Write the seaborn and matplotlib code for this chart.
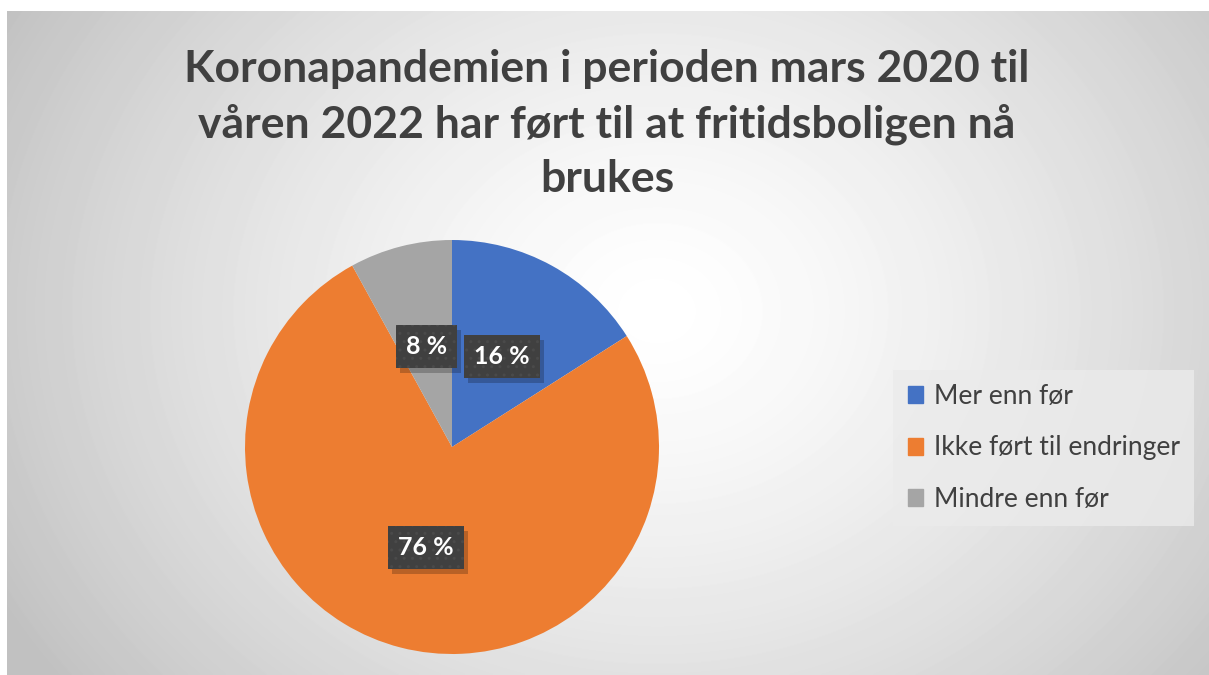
import matplotlib
matplotlib.use("Agg")
import matplotlib.pyplot as plt
from matplotlib.patches import Rectangle
import seaborn as sns
import numpy as np

# data
categories = ["Mer enn før", "Ikke ført til endringer", "Mindre enn før"]
shares = [16, 76, 8]
title = "Koronapandemien i perioden mars 2020 til\nvåren 2022 har ført til at fritidsboligen nå\nbrukes"

palette = ["#4472C4", "#ED7D31", "#A5A5A5"]

sns.set_theme(style="white")
plt.rcParams['font.family'] = ['Lato', 'DejaVu Sans']

W, H = 1209, 675
fig = plt.figure(figsize=(W / 100, H / 100), dpi=100)
fig.patch.set_facecolor("white")

# radial gradient background of the chart area
bg = fig.add_axes([7 / W, 0, (W - 7) / W, (H - 11) / H])
yy, xx = np.mgrid[0:H - 11, 0:W - 7]
d = np.hypot(xx - 650, (yy - 300) * 1.2)
v = np.clip(1.0 - 0.23 * (d / 720) ** 1.4, 0.76, 1.0)
bg.imshow(v, cmap="gray", vmin=0, vmax=1, aspect="auto", interpolation="bilinear")
bg.set_axis_off()

fig.text(607 / W, 1 - 49 / H, title, ha="center", va="top", fontsize=32,
         fontweight="bold", color="#404040", linespacing=1.42)

# pie
r = 207
ax = fig.add_axes([(452 - r) / W, (H - 447 - r) / H, 2 * r / W, 2 * r / H])
wedges, _, autotexts = ax.pie(
    shares, colors=palette, startangle=90, counterclock=False,
    autopct=lambda p: f"{p:.0f} %", pctdistance=0.5,
    wedgeprops=dict(linewidth=0),
    textprops=dict(color="white", fontsize=18, fontweight="bold"))
ax.set_xlim(-1, 1)
ax.set_ylim(-1, 1)
ax.set_axis_off()

for t in autotexts:
    t.set_zorder(4)
    t.set_bbox(dict(boxstyle="square,pad=0.4", facecolor="#404040",
                    edgecolor="#4a4a4a", linewidth=0, hatch=".."))

# drop shadows behind the label boxes
fig.canvas.draw()
inv = fig.transFigure.inverted()
for t in autotexts:
    bb = t.get_bbox_patch().get_window_extent()
    (x0, y0), (x1, y1) = inv.transform([(bb.x0 + 4, bb.y0 - 5), (bb.x1 + 4, bb.y1 - 5)])
    ax.add_patch(Rectangle((x0, y0), x1 - x0, y1 - y0, transform=fig.transFigure,
                           facecolor="black", alpha=0.22, linewidth=0, zorder=3,
                           clip_on=False))

# legend
handles = [plt.Rectangle((0, 0), 1, 1, color=c) for c in palette]
leg = fig.legend(handles, categories, loc="center left",
                 bbox_to_anchor=(893 / W, 1 - 448 / H), frameon=True,
                 fontsize=19, handlelength=0.6, handleheight=0.6,
                 handletextpad=0.4, labelspacing=1.0, borderpad=0.55,
                 borderaxespad=0, labelcolor="#404040")
leg.get_frame().set_facecolor("#ebebeb")
leg.get_frame().set_edgecolor("none")
leg.get_frame().set_boxstyle("square,pad=0")

fig.savefig("out.png", dpi=100)
